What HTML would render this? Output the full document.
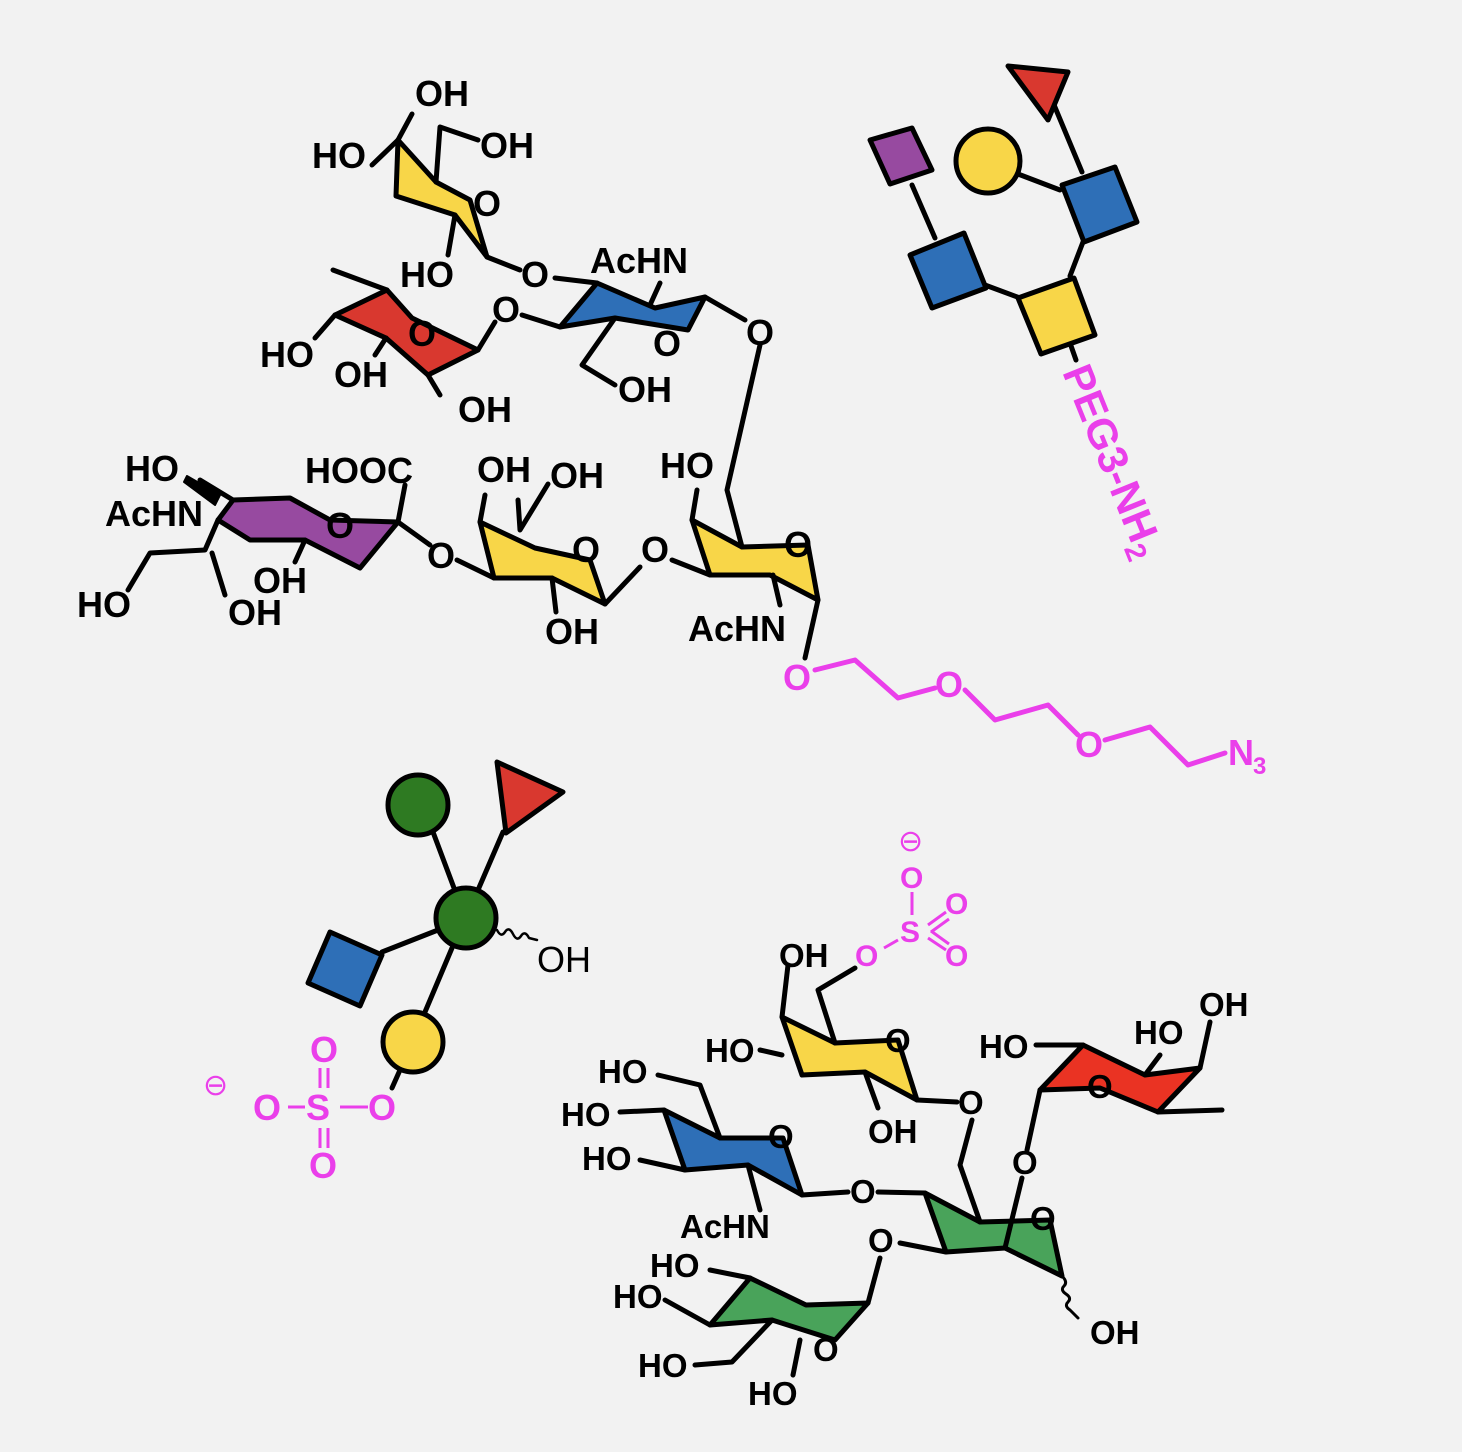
<!DOCTYPE html>
<html><head><style>
body{margin:0;background:#f2f2f2}
svg{display:block}
text{font-family:"Liberation Sans",sans-serif;font-weight:bold;font-size:36px;fill:#000}
.m{fill:#ea3fea}
.s{font-size:33px}
</style></head><body>
<svg width="1462" height="1452" viewBox="0 0 1462 1452" xmlns="http://www.w3.org/2000/svg">
<rect width="1462" height="1452" fill="#f2f2f2"/>
<g stroke="#000" stroke-width="5" stroke-linejoin="round" stroke-linecap="round">
<polygon points="398,140 436,182 470,200 487,257 455,215 396,196" fill="#f8d648"/>
<polygon points="335,315 387,290 412,318 478,350 428,375 386,338" fill="#d9382f"/>
<polygon points="560,327 597,283 655,308 705,297 688,330 615,318" fill="#2e6fb7"/>
<polygon points="218,520 233,500 290,498 330,520 398,522 360,568 305,540 250,540" fill="#974aa0"/>
<polygon points="480,522 494,578 552,578 605,604 590,560 535,548" fill="#f8d648"/>
<polygon points="692,520 710,575 770,575 818,600 808,545 742,547" fill="#f8d648"/>
<polygon points="782,1017 802,1075 865,1072 917,1100 898,1040 835,1043" fill="#f8d648"/>
<polygon points="1040,1090 1083,1045 1145,1075 1200,1068 1158,1112 1100,1088" fill="#ea3323"/>
<polygon points="664,1110 685,1170 748,1165 802,1195 783,1138 720,1138" fill="#2e6fb7"/>
<polygon points="925,1193 946,1252 1005,1248 1062,1276 1050,1220 980,1222" fill="#49a35a"/>
<polygon points="710,1325 750,1278 806,1305 868,1303 835,1340 772,1320" fill="#49a35a"/>
<path fill="none" d="M398,140 L412,114 M398,140 L372,165 M436,182 L440,127 L478,140 M455,215 L448,255 M487,257 L520,270 M555,278 L597,283 M705,297 L745,320 M760,345 L727,490 L742,547 M692,520 L697,490 M773,575 L780,605 M818,600 L805,658
M335,315 L315,338 M387,290 L333,270 M386,338 L375,355 M428,375 L440,395 M478,350 L495,322 M522,315 L560,327 M660,283 L650,305 M615,318 L582,365 L615,385
M233,500 L200,480 M218,520 L205,550 L150,553 L128,590 M212,553 L225,595 M305,540 L295,562 M398,522 L405,485 M398,522 L430,545 M457,560 L494,578 M480,522 L485,495 M518,500 L520,530 L548,484 M552,578 L556,612 M605,604 L640,567 M672,560 L710,575
M782,1017 L788,965 M835,1043 L818,990 L855,968 M782,1055 L760,1050 M865,1072 L878,1108 M917,1100 L957,1102 M972,1120 L960,1165 L980,1222
M1083,1045 L1036,1045 M1040,1090 L1027,1150 M1022,1178 L1005,1248 M1158,1112 L1222,1110 M1200,1068 L1210,1022 M1145,1075 L1160,1055
M664,1110 L620,1112 M720,1138 L700,1085 L658,1075 M685,1170 L640,1160 M748,1165 L760,1210 M802,1195 L848,1192 M878,1192 L925,1193 M946,1252 L900,1243 M880,1258 L868,1303
M750,1278 L710,1270 M710,1325 L665,1300 M772,1320 L732,1362 L695,1365 M800,1340 L793,1375"/>
<path fill="none" stroke-width="3" d="M1062,1276 q6,6 2,10 q-4,4 2,8 q6,4 2,8 q-4,4 2,8 l8,8"/>
<polygon points="187,476 220,495 215,505 184,482" fill="#000" stroke-width="2"/>
<path fill="none" stroke="#ea3fea" d="M815,670 L855,660 L898,698 L935,688 M965,690 L995,720 L1048,705 L1078,735 M1105,740 L1150,727 L1188,765 L1225,753"/>
<path fill="none" d="M912,185 L935,238 M985,285 L1020,298 M1070,276 L1083,242 M1018,174 L1060,190 M1082,172 L1052,100 M1070,343 L1076,360"/>
<polygon points="870,140 912,128 932,170 890,184" fill="#974aa0"/>
<circle cx="988" cy="161" r="32" fill="#f8d648"/>
<polygon points="1008,66 1068,72 1048,120" fill="#d9382f"/>
<polygon points="1062,185 1115,167 1137,222 1084,242" fill="#2e6fb7"/>
<polygon points="910,255 964,233 986,288 932,308" fill="#2e6fb7"/>
<polygon points="1018,298 1074,278 1095,335 1041,354" fill="#f8d648"/>
<path fill="none" d="M433,832 L454,888 M478,890 L503,832 M438,930 L382,952 M452,948 L425,1012 M400,1070 L392,1088"/>
<path fill="none" stroke-width="2.5" d="M497,930 q4,8 8,2 q4,-6 8,2 q4,8 8,2 q4,-6 8,2 l8,2"/>
<circle cx="418" cy="805" r="30" fill="#2e7a22"/>
<circle cx="466" cy="918" r="30" fill="#2e7a22"/>
<polygon points="497,762 563,792 506,833" fill="#d9382f"/>
<polygon points="330,932 382,955 360,1006 308,983" fill="#2e6fb7"/>
<circle cx="413" cy="1042" r="30" fill="#f8d648"/>
</g>
<g stroke="#ea3fea" stroke-width="3" fill="none">
<path d="M288,1107 L305,1107 M340,1107 L368,1107 M320,1068 L320,1088 M328,1068 L328,1088 M320,1128 L320,1148 M328,1128 L328,1148"/>
<path d="M912,892 L912,915 M884,948 L898,940 M928,925 L946,912 M931,932 L949,919 M928,938 L946,950 M931,931 L949,944"/>
</g>
<text x="415" y="106">OH</text><text x="480" y="158">OH</text><text x="312" y="168">HO</text>
<text x="473" y="216">O</text><text x="400" y="287">HO</text><text x="521" y="287">O</text>
<text x="590" y="273">AcHN</text><text x="492" y="322">O</text><text x="746" y="345">O</text>
<text x="653" y="356">O</text><text x="408" y="346">O</text><text x="260" y="367">HO</text>
<text x="334" y="387">OH</text><text x="458" y="422">OH</text><text x="618" y="402">OH</text>
<text x="125" y="481">HO</text><text x="305" y="483">HOOC</text><text x="105" y="526">AcHN</text>
<text x="326" y="538">O</text><text x="77" y="617">HO</text><text x="253" y="593">OH</text>
<text x="228" y="625">OH</text><text x="427" y="568">O</text><text x="477" y="482">OH</text>
<text x="550" y="488">OH</text><text x="572" y="562">O</text><text x="545" y="644">OH</text>
<text x="641" y="562">O</text><text x="660" y="478">HO</text><text x="784" y="557">O</text>
<text x="688" y="641">AcHN</text>
<text class="m" x="783" y="690">O</text><text class="m" x="935" y="697">O</text><text class="m" x="1075" y="757">O</text>
<text class="m" x="1228" y="765">N</text><text class="m" x="1253" y="774" style="font-size:24px">3</text>
<text class="m" transform="translate(1062,372) rotate(68)" style="font-size:42px">PEG3-NH<tspan style="font-size:29px" dy="9">2</tspan></text>
<text x="537" y="972" style="font-weight:normal">OH</text>
<text class="m" x="310" y="1062">O</text><text class="m" x="253" y="1120">O</text><text class="m" x="306" y="1120">S</text>
<text class="m" x="368" y="1120">O</text><text class="m" x="309" y="1178">O</text>
<text class="m" style="font-weight:normal;font-size:30px" x="203" y="1095">⊖</text>
<text class="m" style="font-weight:normal;font-size:30px" x="898" y="851">⊖</text>
<text class="m" style="font-size:30px" x="900" y="888">O</text><text class="m" style="font-size:30px" x="900" y="942">S</text>
<text class="m" style="font-size:30px" x="945" y="914">O</text><text class="m" style="font-size:30px" x="945" y="966">O</text>
<text class="m" style="font-size:30px" x="855" y="966">O</text>
<g class="s">
<text class="s" x="779" y="967">OH</text><text class="s" x="705" y="1062">HO</text>
<text class="s" x="885" y="1052">O</text><text class="s" x="868" y="1143">OH</text>
<text class="s" x="958" y="1114">O</text><text class="s" x="979" y="1058">HO</text>
<text class="s" x="1134" y="1044">HO</text><text class="s" x="1199" y="1016">OH</text>
<text class="s" x="1087" y="1098">O</text><text class="s" x="1012" y="1174">O</text>
<text class="s" x="598" y="1083">HO</text><text class="s" x="561" y="1126">HO</text>
<text class="s" x="582" y="1170">HO</text><text class="s" x="768" y="1148">O</text>
<text class="s" x="680" y="1238">AcHN</text><text class="s" x="850" y="1203">O</text>
<text class="s" x="1030" y="1230">O</text><text class="s" x="868" y="1252">O</text>
<text class="s" x="650" y="1277">HO</text><text class="s" x="613" y="1308">HO</text>
<text class="s" x="638" y="1377">HO</text><text class="s" x="813" y="1361">O</text>
<text class="s" x="748" y="1405">HO</text><text class="s" x="1090" y="1344">OH</text>
</g>
</svg>
</body></html>
